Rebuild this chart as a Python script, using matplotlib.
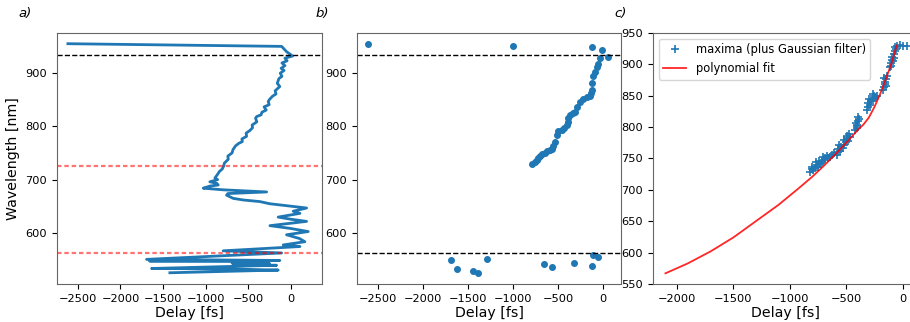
import matplotlib.pyplot as plt
import numpy as np

# a) raw maxima trace, ordered by wavelength
trace_delay = [-2617, -109, -50, 20, -70, -45, -105, -70, -115, -80, -125, -105,
               -140, -160, -130, -185, -175, -215, -250, -266, -255, -315, -290,
               -340, -350, -400, -415, -400, -455, -450, -480, -525, -520, -575,
               -570, -610, -650, -680, -690, -740, -735, -780, -790, -805, -840,
               -860, -892, -860, -951, -870, -853, -950, -1029, -795, -285, -740,
               -755, -677, -560, -364, -250, 184, 27, 106, -149, 0, 184, -246, -12,
               203, -51, 100, 164, -90, 106, -795, -109, -1694, -130, -1660, -364,
               -690, -250, -677, -168, -1635, -700, -149, -1420]
trace_wl = [954, 949, 939, 931, 927, 922, 918, 913, 908, 904, 899, 893,
            889, 880, 874, 866, 860, 856, 850, 846, 840, 836, 830,
            826, 821, 818, 815, 808, 802, 797, 792, 787, 781, 776,
            771, 768, 763, 756, 750, 744, 738, 731, 725, 720, 715,
            710, 703, 700, 696, 693, 690, 688, 684, 681, 677, 674,
            671, 665, 662, 659, 655, 647, 641, 637, 630, 626, 622, 614, 609,
            603, 597, 590, 584, 578, 575, 567, 563, 551, 549, 548, 547,
            544, 543, 541, 540, 534, 533, 531, 526]

# b) maxima positions
max_delay = [-2605, -1004, -122, -18, 55,
             -787, -760, -738, -720, -702, -680, -646, -620, -591, -570, -554,
             -535, -517, -499, -461, -430, -406, -395, -388, -369, -340, -314,
             -295, -258, -222, -184, -147, -135, -129, -125, -111, -92, -73, -55,
             -37,
             -1688, -1625, -1448, -1393, -1293, -657, -565, -321, -122, -111, -55]
max_wl = [953, 950.5, 947, 942, 929,
          729, 733, 737, 741, 744, 747, 750, 753, 755, 758, 762,
          771, 783, 790, 793, 797, 802, 808, 815, 821, 824, 827,
          836, 846, 850, 855, 856, 862, 868, 880, 893, 902, 911, 917,
          927,
          549, 533, 529, 526, 552, 542, 536, 545, 539, 559, 555]

# c) filtered maxima and polynomial fit
filt_delay = [-820, -805, -790, -800, -775, -760, -770, -745, -730, -740, -715,
              -700, -705, -685, -670, -660, -643, -625, -610,
              -584, -570, -575, -555, -545, -560, -530, -520, -505, -515, -495,
              -480, -490, -466, -475,
              -420, -407, -400, -395, -393, -410, -385, -400,
              -319, -305, -310, -290, -280, -295, -265, -255, -245, -260, -230,
              -172, -165, -160, -155, -150, -165, -142, -150,
              -112, -105, -100, -95, -90, -85, -80, -70, -75, -60, -65, -53,
              -24, 5, 35]
filt_wl = [729, 733, 731, 737, 735, 740, 744, 737, 742, 746, 745,
           748, 752, 750, 754, 750, 753, 756, 758,
           755, 760, 765, 762, 768, 771, 766, 772, 776, 779, 782,
           778, 786, 785, 789,
           795, 798, 804, 810, 816, 807, 813, 801,
           827, 832, 838, 836, 842, 845, 844, 849, 847, 852, 849,
           859, 864, 869, 872, 876, 879, 881, 866,
           896, 902, 898, 907, 912, 905, 917, 922, 910, 925, 928, 929,
           931, 930, 929]
fit_delay = [-2100, -1900, -1700, -1500, -1300, -1100, -924, -800, -700, -600,
             -500, -400, -348, -300, -250, -201, -150, -100, -53]
fit_wl = [567, 583, 602, 624, 650, 676, 702, 721, 738, 756,
          775, 795, 804, 815, 832, 852, 876, 901, 930]

lines_black = [933, 563]
lines_red = [726, 563]

W, H = 910, 322
fig = plt.figure(figsize=(W / 100, H / 100), dpi=100)
tick_fs = 8.2
label_fs = 10.2

def add_ax(left, right):
    ax = fig.add_axes([left / W, (H - 284) / H, (right - left) / W, 251 / H])
    ax.tick_params(labelsize=tick_fs)
    for s in ax.spines.values():
        s.set_color('#666666')
    return ax

# a)
ax1 = add_ax(57, 322)
ax1.plot(trace_delay, trace_wl, color='#1f77b4', lw=2)
ax1.axhline(lines_black[0], color='k', ls='--', lw=1)
for y in lines_red:
    ax1.axhline(y, color='r', ls=(0, (2, 1.3)), lw=1.6, alpha=0.55)
ax1.set_xticks([-2500, -2000, -1500, -1000, -500, 0])
ax1.set_yticks([600, 700, 800, 900])
ax1.set_xlim(-2745, 365)
ax1.set_ylim(505, 974)
ax1.set_xlabel('Delay [fs]', fontsize=label_fs, labelpad=2)
ax1.set_ylabel('Wavelength [nm]', fontsize=label_fs)

# b)
ax2 = add_ax(357, 621)
ax2.plot(max_delay, max_wl, 'o', color='#1f77b4', ms=4)
for y in lines_black:
    ax2.axhline(y, color='k', ls='--', lw=1)
ax2.set_xticks([-2500, -2000, -1500, -1000, -500, 0])
ax2.set_yticks([600, 700, 800, 900])
ax2.set_xlim(-2729, 196)
ax2.set_ylim(505, 974)
ax2.set_xlabel('Delay [fs]', fontsize=label_fs, labelpad=2)

# c)
ax3 = add_ax(653, 917)
ax3.plot(filt_delay, filt_wl, '+', color='#1f77b4', ms=6, mew=1.2,
         label='maxima (plus Gaussian filter)')
ax3.plot(fit_delay, fit_wl, color='r', lw=1.3, alpha=0.85, label='polynomial fit')
ax3.set_xticks([-2000, -1500, -1000, -500, 0])
ax3.set_yticks(np.arange(550, 951, 50))
ax3.set_xlim(-2210, 127)
ax3.set_ylim(550, 950)
ax3.set_xlabel('Delay [fs]', fontsize=label_fs, labelpad=2)
ax3.legend(loc='upper left', fontsize=8.3)

for x, t in [(18, 'a)'), (316, 'b)'), (614, 'c)')]:
    fig.text(x / W, 1 - 14 / H, t, fontsize=9.5, style='italic', va='center')

fig.savefig('out.png', dpi=100)
